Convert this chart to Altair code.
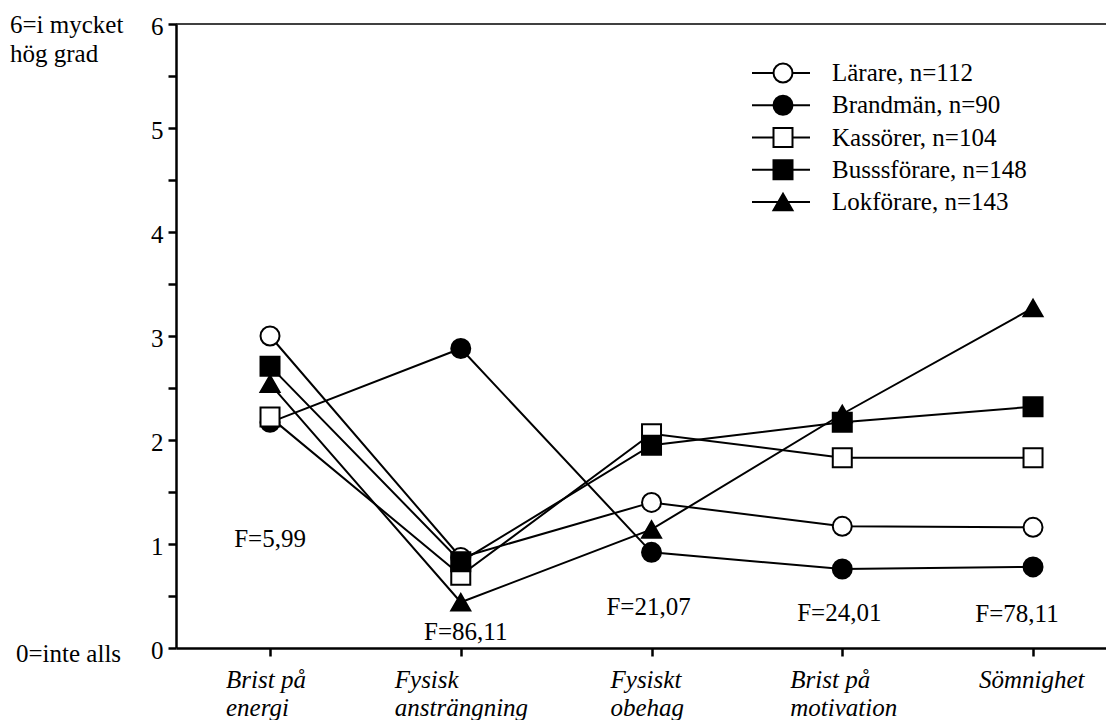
import altair as alt
import pandas as pd

# ---- data ----
categories = ["Brist på\nenergi", "Fysisk\nansträngning", "Fysiskt\nobehag",
              "Brist på\nmotivation", "Sömnighet"]
series = ["Lärare, n=112", "Brandmän, n=90", "Kassörer, n=104",
          "Busssförare, n=148", "Lokförare, n=143"]
larare = [3.00, 0.87, 1.40, 1.17, 1.16]
brandman = [2.17, 2.88, 0.92, 0.76, 0.78]
kassorer = [2.22, 0.70, 2.06, 1.83, 1.83]
bussforare = [2.71, 0.83, 1.95, 2.17, 2.32]
lokforare = [2.54, 0.44, 1.14, 2.25, 3.27]
f_labels = ["F=5,99", "F=86,11", "F=21,07", "F=24,01", "F=78,11"]
f_y = [0.97, 0.08, 0.32, 0.26, 0.25]
y_ticks = [0, 0.5, 1, 1.5, 2, 2.5, 3, 3.5, 4, 4.5, 5, 5.5, 6]
y_top_label = ["6=i mycket", "hög grad"]
y_bottom_label = "0=inte alls"

# ---- style ----
FONT = "Liberation Serif"
FS = 25
W, H = 930, 624
shapes = ["circle", "circle", "square", "square", "triangle-up"]
fills = ["white", "black", "white", "black", "black"]
sizes = [361, 361, 400, 400, 480]
f_dx = [0, 5, -3, -3, -16]
cat_dx = [-44, -66, -41, -52, -54]   # left edge of each x-label block relative to its tick

values = [larare, brandman, kassorer, bussforare, lokforare]
draw_order = [4, 0, 1, 2, 3]
rows = []
for s in draw_order:
    for i, c in enumerate(categories):
        rows.append({"series": series[s], "cat": c, "idx": i, "value": values[s][i]})
df = pd.DataFrame(rows)

x_axis = alt.Axis(
    title=None, labels=False,
    tickSize=8, tickWidth=2.5, tickColor="black",
    domainWidth=2.5, domainColor="black", grid=False,
)
y_axis = alt.Axis(
    title=None, values=y_ticks,
    labelExpr="datum.value % 1 === 0 ? format(datum.value, 'd') : ''",
    labelFont=FONT, labelFontSize=FS, labelColor="black", labelPadding=5,
    labelOffset=2,
    tickSize=8, tickWidth=2.5, tickColor="black",
    domainWidth=2.5, domainColor="black", grid=False, labelOverlap=False,
)
x_scale = alt.Scale(type="point", padding=0.4377, align=0.563)
y_scale = alt.Scale(domain=[0, 6], nice=False, zero=True)

X = alt.X("cat:N", sort=categories, scale=x_scale, axis=x_axis)
Y = alt.Y("value:Q", scale=y_scale, axis=y_axis)

shape_enc = alt.Shape("series:N", scale=alt.Scale(domain=series, range=shapes), legend=None)
fill_enc = alt.Fill("series:N", scale=alt.Scale(domain=series, range=fills), legend=None)
size_enc = alt.Size("series:N", scale=alt.Scale(domain=series, range=sizes), legend=None)

base = alt.Chart(df)
lines = base.mark_line(color="black", strokeWidth=2).encode(
    x=X, y=Y, detail="series:N", order="idx:Q")
points = base.mark_point(stroke="black", strokeWidth=2, opacity=1, fillOpacity=1).encode(
    x=X, y=Y, shape=shape_enc, fill=fill_enc, size=size_enc)

top_rule = alt.Chart(pd.DataFrame({"top": [6]})).mark_rule(
    color="black", strokeWidth=1.5).encode(
    y=alt.Y("top:Q", scale=y_scale, axis=y_axis), x=alt.value(0), x2=alt.value(W))

f_layers = []
for lab, cat, fy, dx in zip(f_labels, categories, f_y, f_dx):
    f_layers.append(
        alt.Chart(pd.DataFrame({"cat": [cat], "fy": [fy], "label": [lab]}))
        .mark_text(font=FONT, fontSize=FS, color="black", baseline="alphabetic",
                   align="center", dx=dx)
        .encode(x=alt.X("cat:N", sort=categories, scale=x_scale, axis=x_axis),
                y=alt.Y("fy:Q", scale=y_scale, axis=y_axis), text="label:N")
    )

# x category labels, left-aligned within each two-line block
x_label_layers = []
for cat, dx in zip(categories, cat_dx):
    x_label_layers.append(
        alt.Chart(pd.DataFrame({"cat": [cat]}))
        .transform_calculate(lines="split(datum.cat, '\\n')")
        .mark_text(font=FONT, fontSize=FS, fontStyle="italic", color="black",
                   align="left", baseline="top", lineHeight=28, dx=dx)
        .encode(x=alt.X("cat:N", sort=categories, scale=x_scale, axis=x_axis),
                y=alt.value(H + 20), text="lines:N")
    )

one = pd.DataFrame({"a": [0]})
top_text = alt.Chart(one).mark_text(
    font=FONT, fontSize=FS, color="black", align="left", baseline="alphabetic",
    lineHeight=29).encode(x=alt.value(-166), y=alt.value(9), text=alt.value(y_top_label))
bottom_text = alt.Chart(one).mark_text(
    font=FONT, fontSize=FS, color="black", align="left", baseline="alphabetic").encode(
    x=alt.value(-160), y=alt.value(638), text=alt.value(y_bottom_label))

main = alt.layer(top_rule, lines, points, *f_layers, *x_label_layers, top_text, bottom_text)

# ---- custom legend ----
leg_df = pd.DataFrame({"series": series})
LY = alt.Y("series:N", sort=series,
           scale=alt.Scale(type="point", domain=series, range=[49, 178], padding=0),
           axis=None)
leg_base = alt.Chart(leg_df)
leg_rule = leg_base.mark_rule(color="black", strokeWidth=2).encode(
    x=alt.value(576), x2=alt.value(634), y=LY)
leg_pts = leg_base.mark_point(stroke="black", strokeWidth=2, opacity=1, fillOpacity=1).encode(
    x=alt.value(607), y=LY, shape=shape_enc, fill=fill_enc, size=size_enc)
leg_txt = leg_base.mark_text(font=FONT, fontSize=FS, color="black", align="left",
                             baseline="middle").encode(
    x=alt.value(656), y=LY, text="series:N")
legend = alt.layer(leg_rule, leg_pts, leg_txt)

chart = alt.layer(main, legend).resolve_scale(y="independent").properties(
    width=W, height=H,
    autosize=alt.AutoSizeParams(type="none"),
    padding={"left": 168, "top": 16, "right": 0, "bottom": 72},
    background="white",
).configure_view(stroke=None)

chart.save("out.html", embed_options={"renderer": "svg", "actions": False})
